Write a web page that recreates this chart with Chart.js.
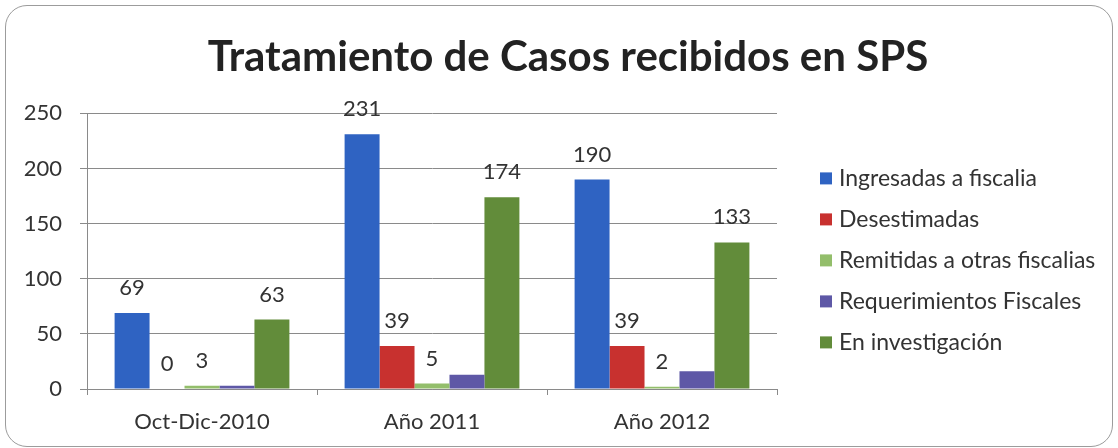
<!DOCTYPE html>
<html>
<head>
<meta charset="utf-8">
<script src="https://cdn.jsdelivr.net/npm/chart.js@4"></script>
<style>
  body { margin: 0; background: #fff; }
  #frame {
    position: absolute; left: 5px; top: 5px;
    width: 1106px; height: 440px;
    border: 1px solid #9c9c9c; border-radius: 22px;
    overflow: hidden;
  }
  canvas { display: block; }
</style>
</head>
<body>
<div id="frame"><canvas id="chart" width="1106" height="440"></canvas></div>
<script>
const categories = ['Oct-Dic-2010', 'Año 2011', 'Año 2012'];
const ingresadas = [69, 231, 190];
const desestimadas = [0, 39, 39];
const remitidas = [3, 5, 2];
const requerimientos = [3, 13, 16];
const investigacion = [63, 174, 133];
const yTicks = [0, 50, 100, 150, 200, 250];

const FONT = 'Lato, "Open Sans", sans-serif';

// series without printed values
const unlabeled = ['Requerimientos Fiscales'];

const valueLabels = {
    id: 'valueLabels',
    afterDatasetsDraw(chart) {
        const ctx = chart.ctx;
        ctx.save();
        ctx.font = '22px ' + FONT;
        ctx.fillStyle = '#333';
        ctx.textAlign = 'center';
        ctx.textBaseline = 'middle';
        chart.data.datasets.forEach((ds, i) => {
            if (unlabeled.includes(ds.label)) return;
            chart.getDatasetMeta(i).data.forEach((bar, j) => {
                ctx.fillText(String(ds.data[j]), bar.x, bar.y - 25);
            });
        });
        ctx.restore();
    }
};

// legend drawn to the right of the plot
const sideLegend = {
    id: 'sideLegend',
    afterDraw(chart) {
        const ctx = chart.ctx;
        const area = chart.chartArea;
        ctx.save();
        ctx.font = '23px ' + FONT;
        ctx.textBaseline = 'middle';
        chart.data.datasets.forEach((ds, i) => {
            const y = area.top + 65 + i * 41;
            const x = area.right + 43;
            ctx.fillStyle = ds.backgroundColor;
            ctx.fillRect(x, y - 6, 12, 12);
            ctx.fillStyle = '#333';
            ctx.fillText(ds.label, x + 19, y);
        });
        ctx.restore();
    }
};

new Chart(document.getElementById('chart'), {
    type: 'bar',
    data: {
        labels: categories,
        datasets: [
            { label: 'Ingresadas a fiscalia', data: ingresadas, backgroundColor: '#2f63c2' },
            { label: 'Desestimadas', data: desestimadas, backgroundColor: '#c8312f' },
            { label: 'Remitidas a otras fiscalias', data: remitidas, backgroundColor: '#93be6b' },
            { label: 'Requerimientos Fiscales', data: requerimientos, backgroundColor: '#5e58a6' },
            { label: 'En investigación', data: investigacion, backgroundColor: '#628c3a' }
        ]
    },
    options: {
        responsive: false,
        animation: false,
        events: [],
        categoryPercentage: 0.76,
        barPercentage: 1,
        layout: { padding: { left: 18, right: 0, top: 0, bottom: 0 } },
        plugins: {
            legend: { display: false },
            tooltip: { enabled: false },
            title: {
                display: true,
                text: 'Tratamiento de Casos recibidos en SPS',
                color: '#222',
                font: { family: FONT, size: 42, weight: 'bold' },
                padding: { top: 26, bottom: 31 }
            }
        },
        scales: {
            x: {
                afterFit(scale) { scale.height = 57; },
                grid: { drawOnChartArea: false, drawTicks: true, tickLength: 6, color: '#8a8a8a' },
                border: { color: '#8a8a8a' },
                ticks: { color: '#333', padding: 14, font: { family: FONT, size: 22 } }
            },
            y: {
                min: 0,
                max: 250,
                afterBuildTicks(scale) { scale.ticks = yTicks.map(v => ({ value: v })); },
                afterFit(scale) { scale.width = 63; },
                grid: { color: '#8a8a8a', tickLength: 7 },
                border: { color: '#8a8a8a' },
                ticks: { color: '#333', padding: 18, font: { family: FONT, size: 22 } }
            },
            // empty right-hand axis that keeps room for the legend
            side: {
                position: 'right',
                afterFit(scale) { scale.width = 335; },
                grid: { display: false },
                border: { display: false },
                ticks: { display: false }
            }
        }
    },
    plugins: [valueLabels, sideLegend]
});
</script>
</body>
</html>
